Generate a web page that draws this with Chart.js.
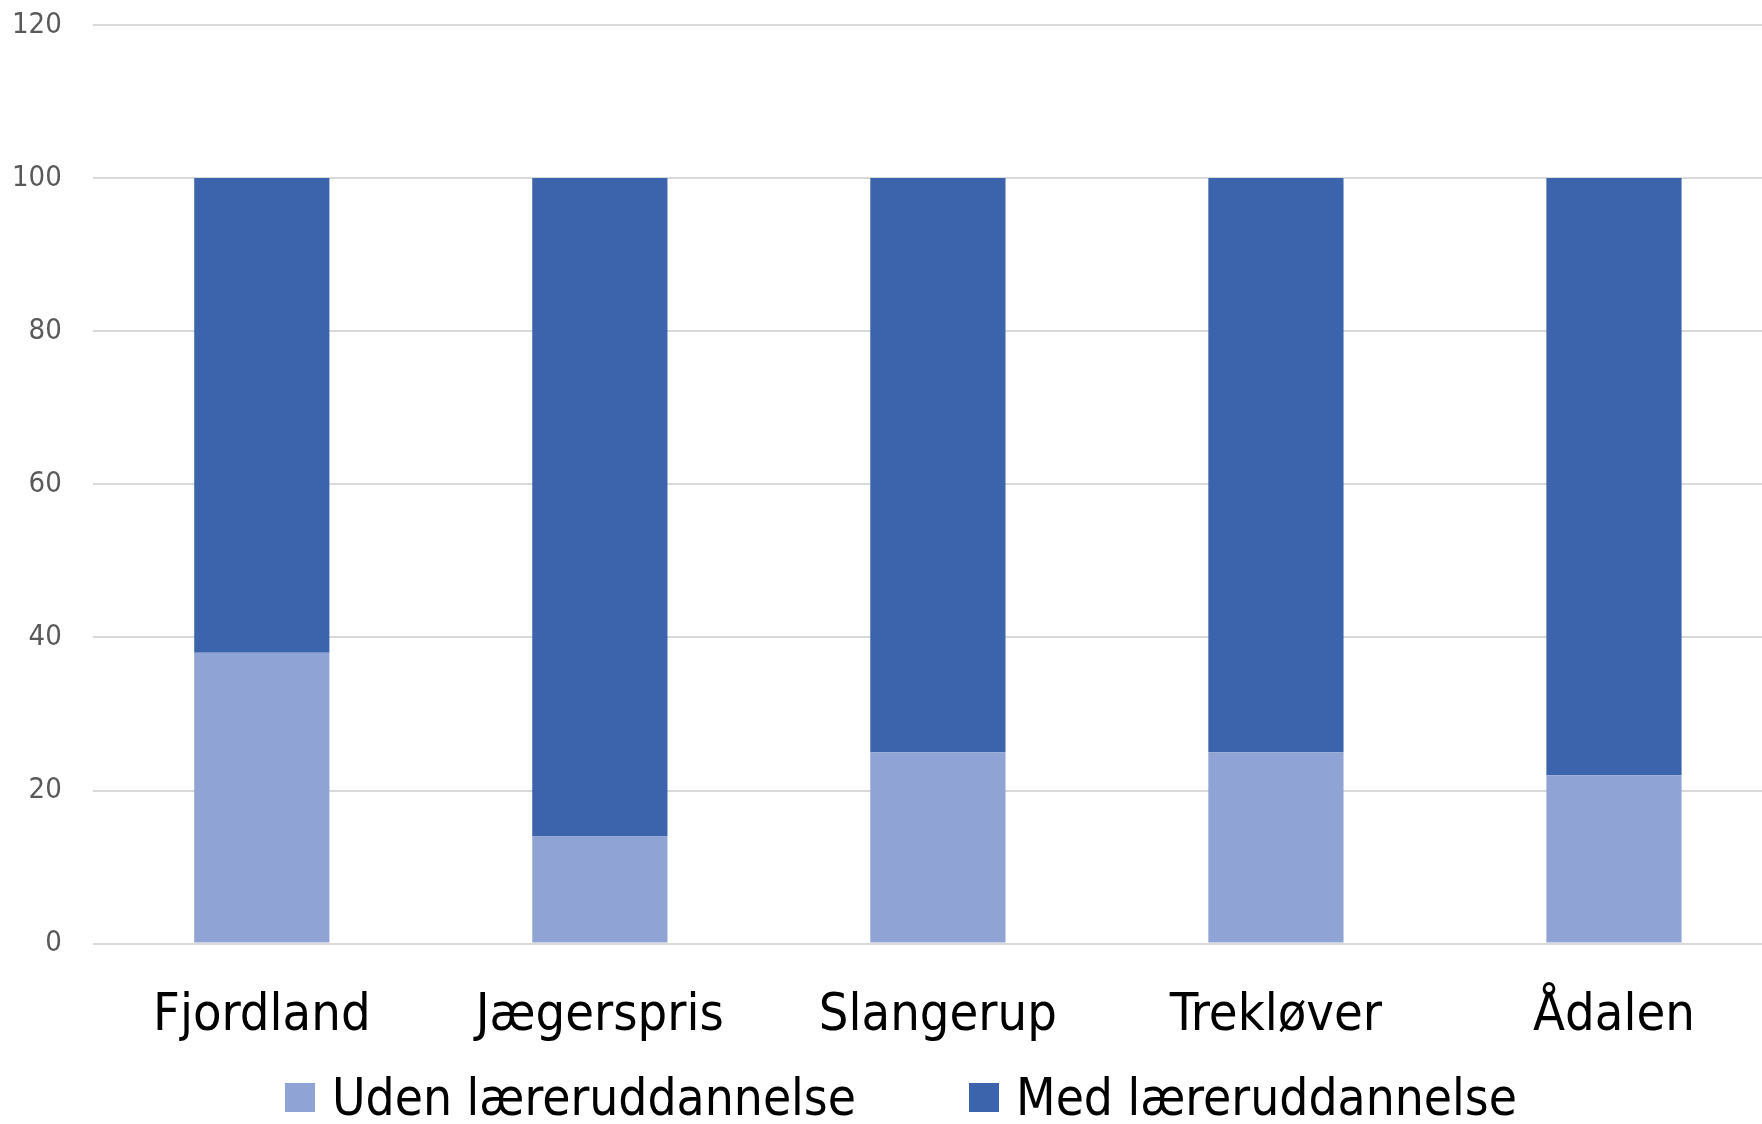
<!DOCTYPE html>
<html>
<head>
<meta charset="utf-8">
<script src="https://cdn.jsdelivr.net/npm/chart.js@4"></script>
<style>
  html, body { margin:0; padding:0; background:#fff; overflow:hidden; }
  .wrap { position:relative; width:1762px; height:1124px; overflow:hidden; }
  #myChart { position:absolute; left:0; top:0; }
  .legend {
    position:absolute; left:285px; top:1072px;
    display:flex; align-items:center; gap:113px;
    font-family:"DejaVu Sans Condensed","DejaVu Sans",sans-serif; font-size:51px; line-height:1; color:#000;
  }
  .legend-item { display:flex; align-items:center; gap:17px; white-space:nowrap; }
  .legend-box { width:30px; height:29px; }
</style>
</head>
<body>
<div class="wrap">
  <canvas id="myChart" width="1783" height="1124"></canvas>
  <div class="legend" id="legend"></div>
</div>
<script>
const categories = ['Fjordland', 'Jægerspris', 'Slangerup', 'Trekløver', 'Ådalen']
const udenValues = [38, 14, 25, 25, 22]
const medValues = [62, 86, 75, 75, 78]
const yTicks = [0, 20, 40, 60, 80, 100, 120]

const diagramm = ()=>{
    const ctx = document.getElementById("myChart").getContext("2d");

    const data = {
        labels: categories,
        datasets:[
            {
                data: udenValues,
                label: "Uden læreruddannelse",
                backgroundColor:"#8FA3D4",
                barPercentage:0.4,
                categoryPercentage:1,
            },
            {
                data: medValues,
                label: "Med læreruddannelse",
                backgroundColor:"#3C64AC",
                barPercentage:0.4,
                categoryPercentage:1,
            },
        ],
    };

    const config = {
        type: 'bar',
        data: data,
        options: {
            responsive: false,
            animation: false,
            layout:{
                // tick padding counts twice in the axis size, so pull it back here
                padding:{ left:-19, right:0, top:25, bottom:42 }
            },
            plugins: {
                legend:{ display:false },
                tooltip:{ enabled:false },
            },
            scales: {
                x: {
                    stacked: true,
                    grid:{ display:false },
                    border:{ display:false },
                    ticks:{
                        color:"#000",
                        padding:34,
                        font:{ family:"'DejaVu Sans Condensed', 'DejaVu Sans', sans-serif", size:52 },
                    },
                },
                y: {
                    stacked: true,
                    min: yTicks[0],
                    max: yTicks[yTicks.length - 1],
                    afterBuildTicks: (axis) => { axis.ticks = yTicks.map(v => ({ value: v })) },
                    afterFit: (axis) => { axis.paddingTop = 0 },
                    border:{ display:false },
                    grid:{
                        color:"#D9D9D9",
                        lineWidth:2,
                        drawTicks:false,
                    },
                    ticks:{
                        color:"#595959",
                        padding:31,
                        font:{ family:"'DejaVu Sans Condensed', 'DejaVu Sans', sans-serif", size:29 },
                    },
                }
            }
        }
    };

    const myChart = new Chart(ctx, config)

    // html legend from the datasets
    const legend = document.getElementById("legend")
    myChart.data.datasets.forEach(function(ds){
        const item = document.createElement("div")
        item.className = "legend-item"
        const box = document.createElement("span")
        box.className = "legend-box"
        box.style.background = ds.backgroundColor
        const txt = document.createElement("span")
        txt.textContent = ds.label
        item.appendChild(box)
        item.appendChild(txt)
        legend.appendChild(item)
    })
}

diagramm()
</script>
</body>
</html>
